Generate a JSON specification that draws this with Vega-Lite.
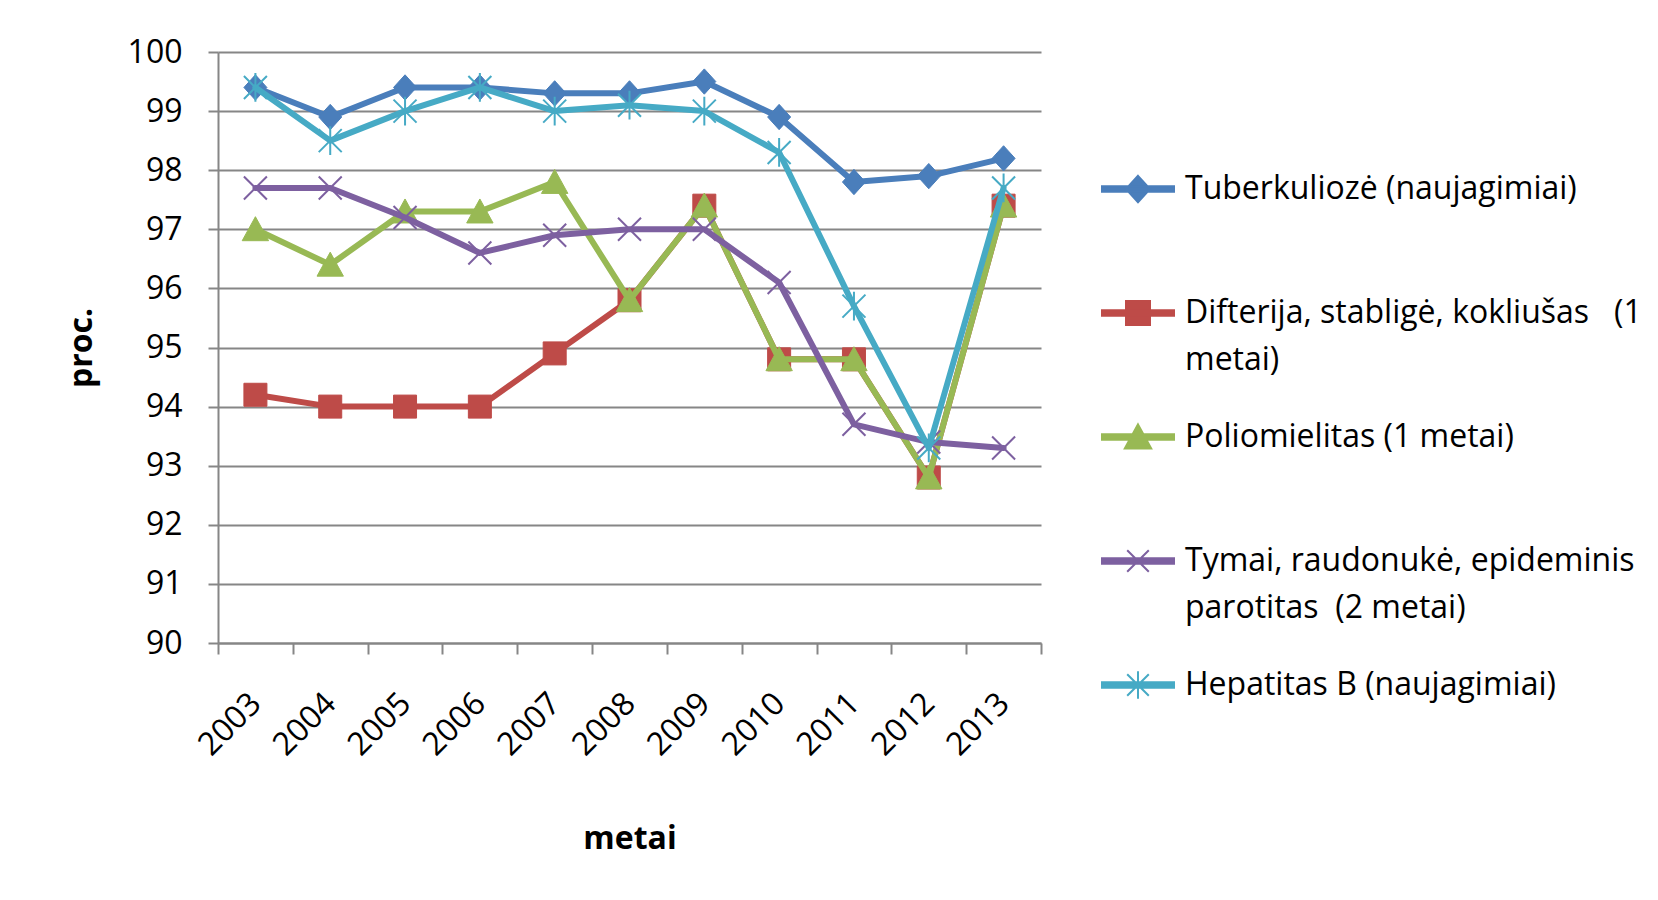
{
  "$schema": "https://vega.github.io/schema/vega-lite/v6.json",
  "autosize": {"type": "none"},
  "width": 823,
  "height": 591,
  "padding": {"left": 218, "top": 52, "right": 617, "bottom": 257},
  "background": "#ffffff",
  "config": {
    "view": {"stroke": null},
    "font": "Open Sans",
    "axis": {"labelFont": "Open Sans", "titleFont": "Open Sans", "labelColor": "#000000", "titleColor": "#000000"},
    "style": {"guide-label": {"lineHeight": 47}}
  },
  "data": {
    "values": [
      {"metai": "2003", "serija": "Tuberkuliozė (naujagimiai)", "proc": 99.4},
      {"metai": "2004", "serija": "Tuberkuliozė (naujagimiai)", "proc": 98.9},
      {"metai": "2005", "serija": "Tuberkuliozė (naujagimiai)", "proc": 99.4},
      {"metai": "2006", "serija": "Tuberkuliozė (naujagimiai)", "proc": 99.4},
      {"metai": "2007", "serija": "Tuberkuliozė (naujagimiai)", "proc": 99.3},
      {"metai": "2008", "serija": "Tuberkuliozė (naujagimiai)", "proc": 99.3},
      {"metai": "2009", "serija": "Tuberkuliozė (naujagimiai)", "proc": 99.5},
      {"metai": "2010", "serija": "Tuberkuliozė (naujagimiai)", "proc": 98.9},
      {"metai": "2011", "serija": "Tuberkuliozė (naujagimiai)", "proc": 97.8},
      {"metai": "2012", "serija": "Tuberkuliozė (naujagimiai)", "proc": 97.9},
      {"metai": "2013", "serija": "Tuberkuliozė (naujagimiai)", "proc": 98.2},
      {"metai": "2003", "serija": "Difterija, stabligė, kokliušas  (1 metai)", "proc": 94.2},
      {"metai": "2004", "serija": "Difterija, stabligė, kokliušas  (1 metai)", "proc": 94.0},
      {"metai": "2005", "serija": "Difterija, stabligė, kokliušas  (1 metai)", "proc": 94.0},
      {"metai": "2006", "serija": "Difterija, stabligė, kokliušas  (1 metai)", "proc": 94.0},
      {"metai": "2007", "serija": "Difterija, stabligė, kokliušas  (1 metai)", "proc": 94.9},
      {"metai": "2008", "serija": "Difterija, stabligė, kokliušas  (1 metai)", "proc": 95.8},
      {"metai": "2009", "serija": "Difterija, stabligė, kokliušas  (1 metai)", "proc": 97.4},
      {"metai": "2010", "serija": "Difterija, stabligė, kokliušas  (1 metai)", "proc": 94.8},
      {"metai": "2011", "serija": "Difterija, stabligė, kokliušas  (1 metai)", "proc": 94.8},
      {"metai": "2012", "serija": "Difterija, stabligė, kokliušas  (1 metai)", "proc": 92.8},
      {"metai": "2013", "serija": "Difterija, stabligė, kokliušas  (1 metai)", "proc": 97.4},
      {"metai": "2003", "serija": "Poliomielitas (1 metai)", "proc": 97.0},
      {"metai": "2004", "serija": "Poliomielitas (1 metai)", "proc": 96.4},
      {"metai": "2005", "serija": "Poliomielitas (1 metai)", "proc": 97.3},
      {"metai": "2006", "serija": "Poliomielitas (1 metai)", "proc": 97.3},
      {"metai": "2007", "serija": "Poliomielitas (1 metai)", "proc": 97.8},
      {"metai": "2008", "serija": "Poliomielitas (1 metai)", "proc": 95.8},
      {"metai": "2009", "serija": "Poliomielitas (1 metai)", "proc": 97.4},
      {"metai": "2010", "serija": "Poliomielitas (1 metai)", "proc": 94.8},
      {"metai": "2011", "serija": "Poliomielitas (1 metai)", "proc": 94.8},
      {"metai": "2012", "serija": "Poliomielitas (1 metai)", "proc": 92.8},
      {"metai": "2013", "serija": "Poliomielitas (1 metai)", "proc": 97.4},
      {"metai": "2003", "serija": "Tymai, raudonukė, epideminis parotitas  (2 metai)", "proc": 97.7},
      {"metai": "2004", "serija": "Tymai, raudonukė, epideminis parotitas  (2 metai)", "proc": 97.7},
      {"metai": "2005", "serija": "Tymai, raudonukė, epideminis parotitas  (2 metai)", "proc": 97.2},
      {"metai": "2006", "serija": "Tymai, raudonukė, epideminis parotitas  (2 metai)", "proc": 96.6},
      {"metai": "2007", "serija": "Tymai, raudonukė, epideminis parotitas  (2 metai)", "proc": 96.9},
      {"metai": "2008", "serija": "Tymai, raudonukė, epideminis parotitas  (2 metai)", "proc": 97.0},
      {"metai": "2009", "serija": "Tymai, raudonukė, epideminis parotitas  (2 metai)", "proc": 97.0},
      {"metai": "2010", "serija": "Tymai, raudonukė, epideminis parotitas  (2 metai)", "proc": 96.1},
      {"metai": "2011", "serija": "Tymai, raudonukė, epideminis parotitas  (2 metai)", "proc": 93.7},
      {"metai": "2012", "serija": "Tymai, raudonukė, epideminis parotitas  (2 metai)", "proc": 93.4},
      {"metai": "2013", "serija": "Tymai, raudonukė, epideminis parotitas  (2 metai)", "proc": 93.3},
      {"metai": "2003", "serija": "Hepatitas B (naujagimiai)", "proc": 99.4},
      {"metai": "2004", "serija": "Hepatitas B (naujagimiai)", "proc": 98.5},
      {"metai": "2005", "serija": "Hepatitas B (naujagimiai)", "proc": 99.0},
      {"metai": "2006", "serija": "Hepatitas B (naujagimiai)", "proc": 99.4},
      {"metai": "2007", "serija": "Hepatitas B (naujagimiai)", "proc": 99.0},
      {"metai": "2008", "serija": "Hepatitas B (naujagimiai)", "proc": 99.1},
      {"metai": "2009", "serija": "Hepatitas B (naujagimiai)", "proc": 99.0},
      {"metai": "2010", "serija": "Hepatitas B (naujagimiai)", "proc": 98.3},
      {"metai": "2011", "serija": "Hepatitas B (naujagimiai)", "proc": 95.7},
      {"metai": "2012", "serija": "Hepatitas B (naujagimiai)", "proc": 93.3},
      {"metai": "2013", "serija": "Hepatitas B (naujagimiai)", "proc": 97.7}
    ]
  },
  "encoding": {
    "x": {
      "field": "metai", "type": "ordinal",
      "scale": {"type": "band", "paddingInner": 0, "paddingOuter": 0},
      "axis": {
        "title": "metai", "titleFontSize": 32, "titleFontWeight": "bold", "titlePadding": 62,
        "labelAngle": -45, "labelAlign": "right", "labelBaseline": "middle", "labelFontSize": 32, "labelPadding": 44,
        "tickBand": "extent", "tickSize": 11, "tickColor": "#868686", "tickWidth": 2,
        "domainColor": "#868686", "domainWidth": 2, "grid": false
      }
    },
    "y": {
      "field": "proc", "type": "quantitative",
      "scale": {"domain": [90, 100], "nice": false, "zero": false},
      "axis": {
        "title": "proc.", "titleFontSize": 32, "titleFontWeight": "bold", "titlePadding": 29,
        "values": [90, 91, 92, 93, 94, 95, 96, 97, 98, 99, 100],
        "labelFontSize": 32, "labelPadding": 26,
        "tickSize": 10, "tickColor": "#868686", "tickWidth": 2,
        "domainColor": "#868686", "domainWidth": 2,
        "grid": true, "gridColor": "#868686", "gridWidth": 2
      }
    },
    "color": {
      "field": "serija", "type": "nominal",
      "scale": {
        "domain": ["Tuberkuliozė (naujagimiai)", "Difterija, stabligė, kokliušas  (1 metai)", "Poliomielitas (1 metai)", "Tymai, raudonukė, epideminis parotitas  (2 metai)", "Hepatitas B (naujagimiai)"],
        "range": ["#4A7EBB", "#BE4B48", "#98B954", "#7D60A0", "#46AAC5"]
      },
      "legend": {
        "title": null, "orient": "none", "legendX": 904, "legendY": 121, "padding": 0,
        "gridAlign": "all", "rowPadding": 43, "columns": 1,
        "symbolSize": 576, "symbolStrokeWidth": 2, "symbolOpacity": 1,
        "labelFont": "Open Sans", "labelFontSize": 32, "labelColor": "#000000", "labelLimit": 700, "labelOffset": 31, "labelBaseline": "middle",
        "labelExpr": "datum.label === 'Difterija, stabligė, kokliušas  (1 metai)' ? ['Difterija, stabligė, kokliušas \u00a0\u00a0(1', 'metai)'] : datum.label === 'Tymai, raudonukė, epideminis parotitas  (2 metai)' ? ['Tymai, raudonukė, epideminis', 'parotitas \u00a0(2 metai)'] : datum.label"
      }
    }
  },
  "layer": [
    {
      "mark": {"type": "point", "filled": true, "opacity": 0},
      "encoding": {
        "shape": {
          "field": "serija", "type": "nominal",
          "scale": {
            "domain": ["Tuberkuliozė (naujagimiai)", "Difterija, stabligė, kokliušas  (1 metai)", "Poliomielitas (1 metai)", "Tymai, raudonukė, epideminis parotitas  (2 metai)", "Hepatitas B (naujagimiai)"],
            "range": [
              "M-3,-0.23H3V0.23H-3ZM0,-1.1L1,0L0,1.1L-1,0Z",
              "M-3,-0.23H3V0.23H-3ZM-1,-1H1V1H-1Z",
              "M-3,-0.23H3V0.23H-3ZM0,-1.05L1.1,0.95H-1.1Z",
              "M-3,-0.23H3V0.23H-3ZM-0.9,-0.9L0.9,0.9M-0.9,0.9L0.9,-0.9",
              "M-3,-0.23H3V0.23H-3ZM-0.9,-0.9L0.9,0.9M-0.9,0.9L0.9,-0.9M0,-1.15V1.15"
            ]
          },
          "legend": {
            "title": null, "orient": "none", "legendX": 904, "legendY": 121, "padding": 0,
            "gridAlign": "all", "rowPadding": 43, "columns": 1,
            "symbolSize": 576, "symbolStrokeWidth": 2, "symbolOpacity": 1,
            "labelFont": "Open Sans", "labelFontSize": 32, "labelColor": "#000000", "labelLimit": 700, "labelOffset": 31, "labelBaseline": "middle",
            "labelExpr": "datum.label === 'Difterija, stabligė, kokliušas  (1 metai)' ? ['Difterija, stabligė, kokliušas \u00a0\u00a0(1', 'metai)'] : datum.label === 'Tymai, raudonukė, epideminis parotitas  (2 metai)' ? ['Tymai, raudonukė, epideminis', 'parotitas \u00a0(2 metai)'] : datum.label"
          }
        }
      }
    },
    {
      "transform": [{"filter": "datum.serija === 'Tuberkuliozė (naujagimiai)'"}],
      "layer": [
        {"mark": {"type": "line", "strokeWidth": 6, "strokeJoin": "round", "strokeCap": "round"}},
        {"mark": {"type": "point", "filled": true, "opacity": 1, "size": 529, "shape": "M0,-1.1L1,0L0,1.1L-1,0Z", "stroke": "#4A7EBB", "strokeWidth": 1}}
      ]
    },
    {
      "transform": [{"filter": "datum.serija === 'Difterija, stabligė, kokliušas  (1 metai)'"}],
      "layer": [
        {"mark": {"type": "line", "strokeWidth": 6, "strokeJoin": "round", "strokeCap": "round"}},
        {"mark": {"type": "point", "filled": true, "opacity": 1, "size": 529, "shape": "M-1,-1H1V1H-1Z", "stroke": "#BE4B48", "strokeWidth": 1}}
      ]
    },
    {
      "transform": [{"filter": "datum.serija === 'Poliomielitas (1 metai)'"}],
      "layer": [
        {"mark": {"type": "line", "strokeWidth": 6, "strokeJoin": "round", "strokeCap": "round"}},
        {"mark": {"type": "point", "filled": true, "opacity": 1, "size": 576, "shape": "M0,-1.05L1.1,0.95L-1.1,0.95Z", "stroke": "#98B954", "strokeWidth": 1}}
      ]
    },
    {
      "transform": [{"filter": "datum.serija === 'Tymai, raudonukė, epideminis parotitas  (2 metai)'"}],
      "layer": [
        {"mark": {"type": "line", "strokeWidth": 6, "strokeJoin": "round", "strokeCap": "round"}},
        {"mark": {"type": "point", "filled": true, "opacity": 1, "size": 529, "shape": "M-1,-1L1,1M-1,1L1,-1", "stroke": "#7D60A0", "strokeWidth": 2}}
      ]
    },
    {
      "transform": [{"filter": "datum.serija === 'Hepatitas B (naujagimiai)'"}],
      "layer": [
        {"mark": {"type": "line", "strokeWidth": 6, "strokeJoin": "round", "strokeCap": "round"}},
        {"mark": {"type": "point", "filled": true, "opacity": 1, "size": 529, "shape": "M-1,-1L1,1M-1,1L1,-1M0,-1.25L0,1.25", "stroke": "#46AAC5", "strokeWidth": 2}}
      ]
    }
  ]
}
